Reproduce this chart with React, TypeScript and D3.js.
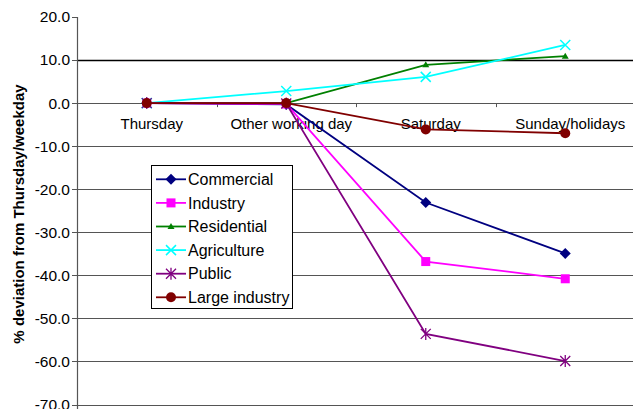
import React from "react";
import * as d3 from "d3";

const categories = ["Thursday", "Other working day", "Saturday", "Sunday/holidays"];
const commercial = [0, -0.3, -23.1, -34.9];
const industry = [0, -0.2, -36.8, -40.8];
const residential = [0, 0, 8.9, 10.9];
const agriculture = [0, 2.8, 6.1, 13.5];
const publicSector = [0, -0.1, -53.6, -59.9];
const largeIndustry = [0, 0, -6.1, -7.0];
const yTicks = [20, 10, 0, -10, -20, -30, -40, -50, -60, -70];

type Series = { name: string; values: number[]; color: string; marker: string };

const series: Series[] = [
  { name: "Commercial", values: commercial, color: "#000080", marker: "diamond" },
  { name: "Industry", values: industry, color: "#FF00FF", marker: "square" },
  { name: "Residential", values: residential, color: "#008000", marker: "triangle" },
  { name: "Agriculture", values: agriculture, color: "#00FFFF", marker: "x" },
  { name: "Public", values: publicSector, color: "#800080", marker: "star" },
  { name: "Large industry", values: largeIndustry, color: "#800000", marker: "circle" },
];

const W = 633;
const H = 409;
const left = 77;
const right = 635;
const top = 17;
const bottom = 404.5;
const font = "Liberation Sans, Arial, sans-serif";

function Marker({ kind, x, y, color }: { kind: string; x: number; y: number; color: string }) {
  switch (kind) {
    case "diamond":
      return <path d={`M${x},${y - 5.5}L${x + 5.5},${y}L${x},${y + 5.5}L${x - 5.5},${y}Z`} fill={color} />;
    case "square":
      return <rect x={x - 4.5} y={y - 4.5} width={9} height={9} fill={color} />;
    case "triangle":
      return <path d={`M${x},${y - 3.5}L${x + 3.5},${y + 2.5}L${x - 3.5},${y + 2.5}Z`} fill={color} />;
    case "x":
      return (
        <path d={`M${x - 5},${y - 5}L${x + 5},${y + 5}M${x - 5},${y + 5}L${x + 5},${y - 5}`} stroke={color} strokeWidth={1.5} />
      );
    case "star":
      return (
        <path
          d={`M${x - 5},${y - 5}L${x + 5},${y + 5}M${x - 5},${y + 5}L${x + 5},${y - 5}M${x},${y - 6}L${x},${y + 6}`}
          stroke={color}
          strokeWidth={1.3}
        />
      );
    default:
      return <circle cx={x} cy={y} r={5} fill={color} />;
  }
}

export default function App() {
  const x = d3.scaleBand<string>().domain(categories).range([left, right]);
  const y = d3.scaleLinear().domain([-70, 20]).range([bottom, top]);
  const cx = (c: string) => (x(c) ?? 0) + x.bandwidth() / 2;
  const line = d3
    .line<number>()
    .x((_, i) => cx(categories[i]))
    .y((v) => y(v));

  const legendX = 151;
  const legendY = 165;
  const rowH = 23.6;

  return (
    <svg
      width={W}
      height={H}
      style={{ position: "absolute", left: 0, top: 0, background: "#fff" }}
      fontFamily={font}
    >
      {/* horizontal gridlines */}
      {yTicks
        .filter((t) => t !== 20)
        .map((t) => (
          <line
            key={t}
            x1={left}
            x2={W}
            y1={Math.round(y(t)) + 0.5}
            y2={Math.round(y(t)) + 0.5}
            stroke={t === 10 ? "#000" : "#555"}
            strokeWidth={t === 10 ? 1.6 : 1.2}
          />
        ))}
      {/* category ticks on the zero line */}
      {categories.slice(1).map((c) => (
        <line
          key={c}
          x1={Math.round(x(c) ?? 0) + 0.5}
          x2={Math.round(x(c) ?? 0) + 0.5}
          y1={y(0)}
          y2={y(0) + 4}
          stroke="#555"
        />
      ))}
      {/* y axis */}
      <line x1={left + 0.5} x2={left + 0.5} y1={top} y2={H} stroke="#555" strokeWidth={1.2} />
      {yTicks.map((t) => (
        <g key={t}>
          <line x1={left - 5} x2={left} y1={Math.round(y(t)) + 0.5} y2={Math.round(y(t)) + 0.5} stroke="#555" />
          <text x={left - 7} y={y(t)} dy="0.35em" textAnchor="end" fontSize={15.5} fill="#000">
            {t.toFixed(1)}
          </text>
        </g>
      ))}
      <text
        transform={`translate(24,214) rotate(-90)`}
        textAnchor="middle"
        fontSize={15}
        fontWeight="bold"
        fill="#000"
      >
        % deviation from Thursday/weekday
      </text>
      {/* category labels */}
      {categories.map((c) => (
        <text key={c} x={cx(c) + 5} y={y(0) + 26} textAnchor="middle" fontSize={15} fill="#000">
          {c}
        </text>
      ))}
      {/* series */}
      {series.map((s) => (
        <g key={s.name}>
          <path d={line(s.values) ?? ""} fill="none" stroke={s.color} strokeWidth={1.8} />
          {s.values.map((v, i) => (
            <Marker key={i} kind={s.marker} x={cx(categories[i])} y={y(v)} color={s.color} />
          ))}
        </g>
      ))}
      {/* legend */}
      <rect x={legendX + 0.5} y={legendY + 0.5} width={141} height={143} fill="#fff" stroke="#000" strokeWidth={1} />
      {series.map((s, i) => {
        const ly = legendY + 14.3 + i * rowH;
        return (
          <g key={s.name}>
            <line x1={legendX + 5} x2={legendX + 35} y1={ly} y2={ly} stroke={s.color} strokeWidth={1.8} />
            <Marker kind={s.marker} x={legendX + 20} y={ly} color={s.color} />
            <text x={legendX + 37} y={ly} dy="0.35em" fontSize={16} fill="#000">
              {s.name}
            </text>
          </g>
        );
      })}
    </svg>
  );
}
